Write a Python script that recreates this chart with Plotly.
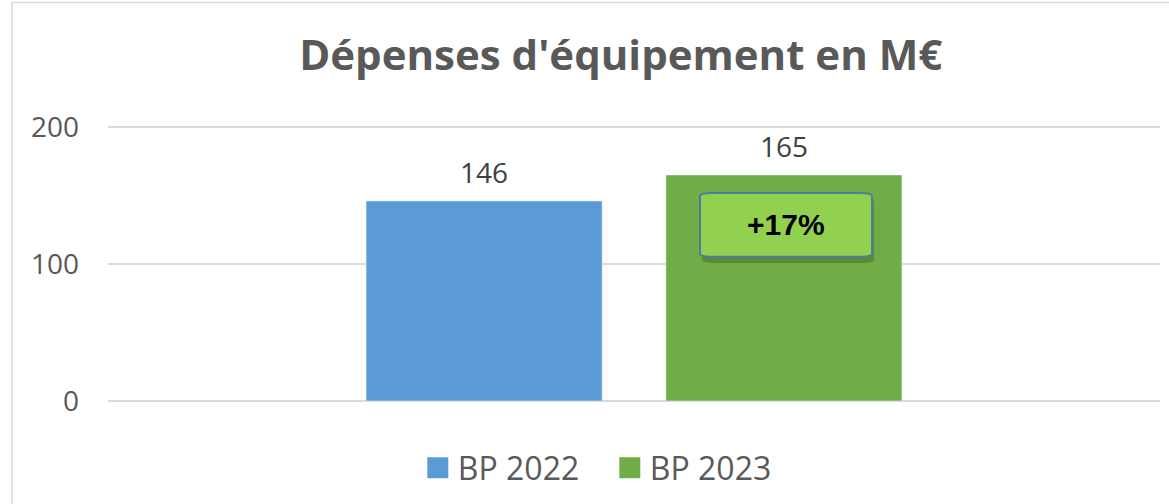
import plotly.graph_objects as go

categories = [""]
series_names = ["BP 2022", "BP 2023"]
series_values = [[146], [165]]
series_colors = ["#5B9BD5", "#70AD47"]
y_ticks = [0, 100, 200]
title_text = "Dépenses d'équipement en M€"
badge_text = "+17%"

fig = go.Figure()
for name, vals, col in zip(series_names, series_values, series_colors):
    fig.add_trace(go.Bar(
        x=categories, y=vals, name=name, marker_color=col,
        text=[str(v) for v in vals], textposition="outside", constraintext="none",
        texttemplate="<span style='font-size:28px'>%{y}</span><br> ",
        textfont=dict(size=9, color="#404040", family="Open Sans"),
        cliponaxis=False, showlegend=False,
    ))
    fig.add_trace(go.Scatter(
        x=[None], y=[None], mode="markers", name=name,
        marker=dict(symbol="square", size=16, color=col, line=dict(color=col, width=5)),
    ))

# chart border
fig.add_shape(type="rect", xref="paper", yref="paper",
              x0=-0.0913, x1=1.2, y0=-0.5, y1=1.427,
              line=dict(color="#D9D9D9", width=1.5), fillcolor="rgba(0,0,0,0)", layer="below")

def rounded(x0, x1, y0, y1, r):
    return (f"M {x0+r},{y0} L {x1-r},{y0} Q {x1},{y0} {x1},{y0+r} "
            f"L {x1},{y1-r} Q {x1},{y1} {x1-r},{y1} L {x0+r},{y1} "
            f"Q {x0},{y1} {x0},{y1-r} L {x0},{y0+r} Q {x0},{y0} {x0+r},{y0} Z")

bx0, bx1 = (700 - 108) / 1052, (872 - 108) / 1052
by0, by1 = (401 - 257) / 274, (401 - 195) / 274
fig.add_shape(type="path", xref="paper", yref="paper",
              path=rounded(bx0 + 0.002, bx1 + 0.002, by0 - 0.022, by1 - 0.018, 0.012),
              fillcolor="rgba(40,60,30,0.30)", line=dict(width=0))
fig.add_shape(type="path", xref="paper", yref="paper",
              path=rounded(bx0, bx1, by0, by1, 0.012),
              fillcolor="#92D050", line=dict(color="#4A7E9A", width=2))
fig.add_annotation(xref="paper", yref="paper", x=(bx0 + bx1) / 2, y=(by0 + by1) / 2,
                   text=f"<b>{badge_text}</b>", showarrow=False,
                   font=dict(size=30, color="#000000", family="Liberation Sans"))

fig.update_layout(
    width=1169, height=504,
    margin=dict(l=108, r=9, t=123, b=99, autoexpand=False),
    paper_bgcolor="white", plot_bgcolor="white",
    title=dict(text=f"<b>{title_text}</b>", x=0.531, xanchor="center", y=0.89, yanchor="middle",
               font=dict(size=42, color="#595959", family="Open Sans")),
    barmode="group", bargap=0.43, bargroupgap=0.213,
    showlegend=True,
    legend=dict(orientation="h", x=0.477, xanchor="center", y=-0.223, yanchor="middle",
                font=dict(size=32, color="#595959", family="Open Sans"),
                itemsizing="trace", itemwidth=30, tracegroupgap=0,
                entrywidth=147, entrywidthmode="pixels"),
    xaxis=dict(showticklabels=False, showgrid=False, zeroline=False, showline=False,
               range=[-0.5, 0.5]),
    yaxis=dict(range=[-3, 203], tickvals=y_ticks, showgrid=True, gridcolor="#D9D9D9",
               gridwidth=1.5, zeroline=True, zerolinecolor="#D9D9D9", zerolinewidth=1.5,
               showline=False,
               tickfont=dict(size=28, color="#595959", family="Open Sans"),
               ticklabelstandoff=28),
)

fig.write_html("out.html", post_script="document.body.style.margin='0';",
               config={"displayModeBar": False})
